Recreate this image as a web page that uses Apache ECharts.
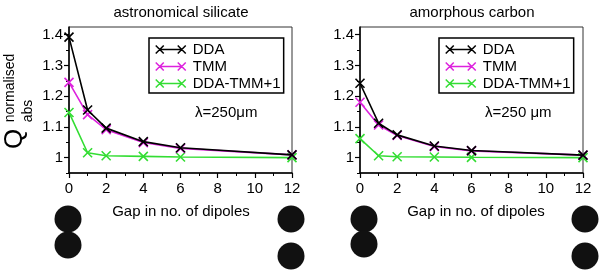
<!DOCTYPE html>
<html><head><meta charset="utf-8">
<script src="https://cdn.jsdelivr.net/npm/echarts@6/dist/echarts.min.js"></script>
<style>html,body{margin:0;padding:0;background:#fff}#c{width:600px;height:270px}</style>
</head><body><div id="c"></div>
<script>
const gaps = [0, 1, 2, 4, 6, 12];
const seriesNames = ['DDA', 'TMM', 'DDA-TMM+1'];
const panelTitles = ['astronomical silicate', 'amorphous carbon'];
const lambdaLabels = ['\u03bb=250\u03bcm', '\u03bb=250 \u03bcm'];
const xTitle = 'Gap in no. of dipoles';
const silicateDDA = [1.392, 1.155, 1.096, 1.052, 1.032, 1.009];
const silicateTMM = [1.245, 1.140, 1.091, 1.049, 1.030, 1.009];
const silicateDiff = [1.147, 1.016, 1.006, 1.004, 1.002, 1.000];
const carbonDDA = [1.242, 1.112, 1.074, 1.038, 1.023, 1.008];
const carbonTMM = [1.180, 1.106, 1.072, 1.036, 1.022, 1.008];
const carbonDiff = [1.062, 1.006, 1.003, 1.002, 1.001, 1.000];
const yMajorTicks = [1, 1.1, 1.2, 1.3, 1.4];
const yMinorTicks = [0.95, 1.05, 1.15, 1.25, 1.35];

const colors = ['#000000', '#dd22dd', '#33dd33'];
const panelData = [[silicateDDA, silicateTMM, silicateDiff], [carbonDDA, carbonTMM, carbonDiff]];
const grids = [{left: 69, top: 27, width: 223, height: 146}, {left: 360, top: 27, width: 223, height: 146}];
const xSym = 'path://M0,0L10,10M10,0L0,10';
const legendIcon = 'path://M0,0L8,8M0,8L8,0M4,4L26,4M22,0L30,8M22,8L30,0';
const FONT = 'Liberation Sans, Arial, Helvetica, sans-serif';

const xAxes = [], yAxes = [], series = [], legends = [], graphics = [];
grids.forEach((g, i) => {
  xAxes.push({
    gridIndex: i, type: 'value', min: 0, max: 12, interval: 2,
    axisLine: {show: true, lineStyle: {color: '#000', width: 1.5}},
    axisTick: {show: true, length: 5, lineStyle: {color: '#000', width: 1.2}},
    minorTick: {show: true, splitNumber: 2, length: 3, lineStyle: {color: '#000', width: 1}},
    axisLabel: {color: '#000', fontSize: 15, fontFamily: FONT, margin: 8},
    splitLine: {show: false}
  });
  yAxes.push({
    gridIndex: i, type: 'value', position: 'left', min: 0.95, max: 1.425,
    axisLine: {show: true, lineStyle: {color: '#000', width: 1.5}},
    axisTick: {show: true, length: 5, customValues: yMajorTicks, lineStyle: {color: '#000', width: 1.2}},
    axisLabel: {customValues: yMajorTicks, color: '#000', fontSize: 15, fontFamily: FONT, margin: 6,
      formatter: v => (Math.abs(v - 1) < 1e-6 ? '1' : v.toFixed(1))},
    splitLine: {show: false}
  });
  yAxes.push({
    gridIndex: i, type: 'value', position: 'left', min: 0.95, max: 1.425,
    axisLine: {show: false},
    axisTick: {show: true, length: 3, customValues: yMinorTicks, lineStyle: {color: '#000', width: 1}},
    axisLabel: {show: false},
    splitLine: {show: false}
  });
  panelData[i].forEach((vals, k) => {
    series.push({
      name: seriesNames[k], type: 'line', xAxisIndex: i, yAxisIndex: i * 2,
      data: gaps.map((x, j) => [x, vals[j]]),
      symbol: xSym, symbolSize: 9, z: 10 - k,
      lineStyle: {color: colors[k], width: 1.6},
      itemStyle: {color: colors[k], borderColor: colors[k], borderWidth: 1.6},
      emphasis: {disabled: true}, animation: false
    });
  });
  legends.push({
    show: true, orient: 'vertical', left: i === 0 ? 149 : 439, top: 38,
    backgroundColor: '#fff', borderColor: '#000', borderWidth: 1.5,
    padding: [4, 3, 2, 6], itemGap: 2, itemWidth: 30, itemHeight: 8,
    icon: legendIcon,
    selectedMode: false,
    textStyle: {color: '#000', fontSize: 15, fontFamily: FONT, padding: [0, 0, 0, 2]},
    data: seriesNames.map((n, k) => ({name: n, itemStyle: {color: 'transparent', borderColor: colors[k], borderWidth: 1.5}}))
  });
  graphics.push({type: 'text', style: {text: panelTitles[i], fill: '#000', font: '15px ' + FONT, textAlign: 'center', textVerticalAlign: 'middle'},
    position: [i === 0 ? 181 : 472, 13]});
  graphics.push({type: 'text', style: {text: lambdaLabels[i], fill: '#000', font: '15px ' + FONT, textAlign: 'left', textVerticalAlign: 'middle'},
    position: [i === 0 ? 195 : 485, 113]});
  graphics.push({type: 'text', style: {text: xTitle, fill: '#000', font: '15px ' + FONT, textAlign: 'center', textVerticalAlign: 'middle'},
    position: [i === 0 ? 181 : 476, 212]});
});

// y-axis title Q^normalised_abs (rotated)
graphics.push({type: 'text', rotation: Math.PI / 2, position: [15, 139],
  style: {text: 'Q', fill: '#000', font: '26px ' + FONT, textAlign: 'center', textVerticalAlign: 'middle'}});
graphics.push({type: 'text', rotation: Math.PI / 2, position: [10, 88],
  style: {text: 'normalised', fill: '#000', font: '14px ' + FONT, textAlign: 'center', textVerticalAlign: 'middle'}});
graphics.push({type: 'text', rotation: Math.PI / 2, position: [28, 111],
  style: {text: 'abs', fill: '#000', font: '14px ' + FONT, textAlign: 'center', textVerticalAlign: 'middle'}});

// decorative dipole pictures
[[68, 219], [68, 245], [291, 219], [291, 256], [364, 219], [364, 244], [585, 219], [585, 256]].forEach(c => {
  graphics.push({type: 'circle', shape: {cx: c[0], cy: c[1], r: 13.5}, style: {fill: '#111'}, z: -1});
});

const chart = echarts.init(document.getElementById('c'), null, {renderer: 'canvas'});
chart.setOption({
  animation: false,
  backgroundColor: '#fff',
  grid: grids.map(g => Object.assign({show: true, borderColor: '#333', borderWidth: 1, backgroundColor: 'transparent'}, g)),
  xAxis: xAxes, yAxis: yAxes, series: series, legend: legends,
  graphic: graphics
});
</script></body></html>
